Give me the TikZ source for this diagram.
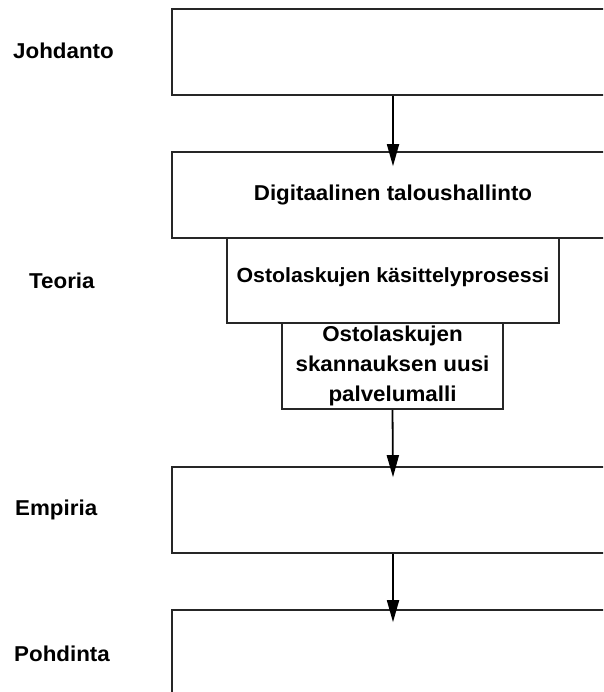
\documentclass[tikz,border=0pt]{standalone}
\usepackage{fontspec}
\setmainfont{Liberation Sans}[FakeStretch=1.04]
\usetikzlibrary{arrows.meta}
\begin{document}
\begin{tikzpicture}[x=1pt,y=-1pt,
  box/.style={draw=black!85, line width=1.6pt, minimum width=442pt, minimum height=86pt, inner sep=0pt, anchor=center},
  lab/.style={font=\fontsize{21.5}{30}\selectfont\bfseries, inner sep=0pt},
  txt/.style={font=\fontsize{21.5}{30}\selectfont\bfseries, align=center},
  arr/.style={line width=1.8pt, -{Triangle[length=22pt,width=12pt]}}]
\useasboundingbox (0,0) rectangle (603,692);
\clip (0,0) rectangle (603,692);
\fill[white] (0,0) rectangle (603,692);
% boxes
\node[box] (b1) at (393,52) {};
\node[box, txt] (b2) at (393,195) {Digitaalinen taloushallinto};
\node[box, txt, font=\fontsize{20.5}{30}\selectfont\bfseries, minimum width=332pt, minimum height=85pt, text depth=11pt] (b3) at (393,280.5) {Ostolaskujen käsittelyprosessi};
\node[box, txt, minimum width=221pt, minimum height=86pt] (b4) at (392.5,366) {Ostolaskujen\\skannauksen uusi\\palvelumalli};
\node[box] (b5) at (393,510) {};
\node[box] (b6) at (393,653) {};
% labels
\node[lab, anchor=base west] (l1) at (13,59) {Johdanto};
\node[lab, anchor=base west] (l2) at (29,288) {Teoria};
\node[lab, anchor=base west] (l3) at (15,515) {Empiria};
\node[lab, anchor=base west] (l4) at (14,661) {Pohdinta};
% arrows
\draw[arr] (b1.south) -- ([yshift=-15pt]b2.north);
\draw[arr] (b4.south) -- ([yshift=-11pt]b5.north);
\draw[arr] (b5.south) -- ([yshift=-13pt]b6.north);
\end{tikzpicture}
\end{document}
